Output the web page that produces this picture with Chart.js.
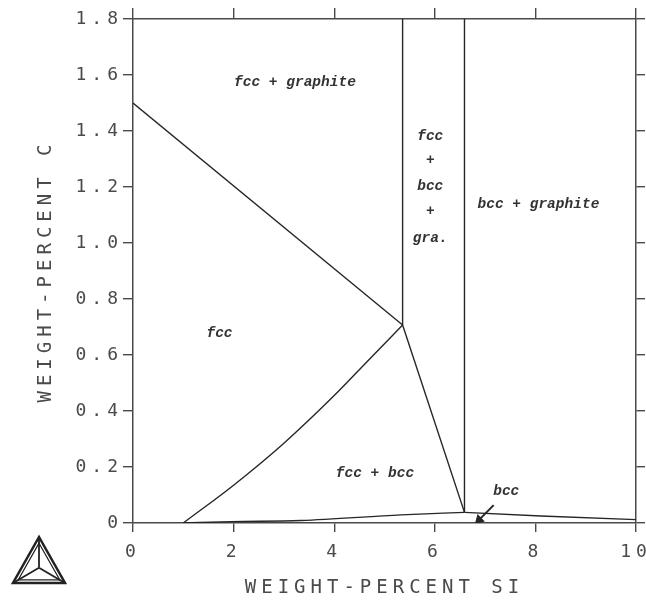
<!DOCTYPE html>
<html>
<head>
<meta charset="utf-8">
<script src="https://cdn.jsdelivr.net/npm/chart.js@4/dist/chart.umd.min.js"></script>
<style>
    html, body { margin: 0; padding: 0; background: #fff; }
    #phaseChart { display: block; }
</style>
</head>
<body>
<canvas id="phaseChart" width="646" height="600"></canvas>
<script>
// Phase boundaries (wt% Si, wt% C)
const graphiteSi = [0, 5.36];
const graphiteC = [1.5, 0.707];
const leftVerticalSi = [5.36, 5.36];
const leftVerticalC = [0.707, 1.8];
const rightVerticalSi = [6.59, 6.59];
const rightVerticalC = [0.038, 1.8];
const fccCurveSi = [1.0, 2.0, 3.0, 4.0, 4.7, 5.36];
const fccCurveC = [0, 0.135, 0.285, 0.455, 0.585, 0.707];
const bccEdgeSi = [5.36, 6.59];
const bccEdgeC = [0.707, 0.038];
const solvusSi = [1.0, 1.95, 3.34, 5.33, 6.59];
const solvusC = [0, 0.005, 0.009, 0.029, 0.038];
const bccGraphiteSi = [6.59, 8.11, 10];
const bccGraphiteC = [0.038, 0.025, 0.012];
const arrowSi = [7.17, 6.88];
const arrowC = [0.064, 0.011];

// Region labels
const labelTexts = ['fcc + graphite', 'fcc', '+', 'bcc', '+', 'gra.', 'bcc + graphite', 'fcc', 'fcc + bcc', 'bcc'];
const labelSi = [3.22, 5.91, 5.91, 5.91, 5.91, 5.91, 8.06, 1.72, 4.81, 7.42];
const labelC = [1.572, 1.382, 1.296, 1.201, 1.112, 1.018, 1.138, 0.677, 0.177, 0.112];

const xTitle = 'WEIGHT-PERCENT SI';
const yTitle = 'WEIGHT-PERCENT C';

const axisColor = '#4a4a4a';
const lineColor = '#262626';
const axisFont = { family: 'DejaVu Sans Mono', size: 18 };
const titleFont = { family: 'DejaVu Sans Mono', size: 19 };

function toPoints(xs, ys) {
    return xs.map((x, i) => ({ x: x, y: ys[i] }));
}

function boundary(xs, ys, extra) {
    return Object.assign({
        data: toPoints(xs, ys),
        showLine: true,
        borderColor: lineColor,
        borderWidth: 1.4,
        pointRadius: 0,
        fill: false
    }, extra || {});
}

// wide-spaced plotter lettering on the axes
const spacingPlugin = {
    id: 'spacing',
    beforeDraw(chart) { chart.ctx.letterSpacing = '5px'; },
    afterDraw(chart) { chart.ctx.letterSpacing = '0px'; }
};

const labelPlugin = {
    id: 'regionLabels',
    afterDatasetsDraw(chart) {
        const ctx = chart.ctx;
        const xs = chart.scales.x, ys = chart.scales.y;
        ctx.save();
        ctx.letterSpacing = '0px';
        ctx.font = 'italic bold 14.5px "Liberation Mono"';
        ctx.fillStyle = '#333';
        ctx.textAlign = 'center';
        ctx.textBaseline = 'middle';
        labelTexts.forEach((t, i) => {
            ctx.fillText(t, xs.getPixelForValue(labelSi[i]), ys.getPixelForValue(labelC[i]));
        });
        ctx.restore();
    }
};

// Thermo-Calc style triangle mark, bottom left
const logoPlugin = {
    id: 'logo',
    afterDraw(chart) {
        const ctx = chart.ctx;
        const a = [39, 537], b = [13, 583], c = [65, 583];
        const g = [(a[0] + b[0] + c[0]) / 3, (a[1] + b[1] + c[1]) / 3];
        const shrink = (p, k) => [g[0] + (p[0] - g[0]) * k, g[1] + (p[1] - g[1]) * k];
        ctx.save();
        ctx.strokeStyle = '#222';
        ctx.lineWidth = 2.5;
        ctx.beginPath();
        ctx.moveTo(a[0], a[1]); ctx.lineTo(b[0], b[1]); ctx.lineTo(c[0], c[1]); ctx.closePath();
        ctx.stroke();
        const ia = shrink(a, 0.8), ib = shrink(b, 0.8), ic = shrink(c, 0.8);
        ctx.lineWidth = 1.2;
        ctx.beginPath();
        ctx.moveTo(ia[0], ia[1]); ctx.lineTo(ib[0], ib[1]); ctx.lineTo(ic[0], ic[1]); ctx.closePath();
        ctx.stroke();
        ctx.lineWidth = 1.8;
        [a, b, c].forEach(p => {
            ctx.beginPath();
            ctx.moveTo(g[0], g[1]);
            ctx.lineTo(p[0], p[1]);
            ctx.stroke();
        });
        ctx.restore();
    }
};

function axisGrid(len) {
    return { drawOnChartArea: false, drawTicks: true, tickLength: len, tickColor: axisColor, lineWidth: 1.4 };
}
const axisBorder = { display: true, color: axisColor, width: 1.5 };

// fixed box sizes so the plot frame lands where the original one is
function fixBox(size) {
    return function (scale) {
        if (scale.isHorizontal()) scale.height = size; else scale.width = size;
        scale.paddingLeft = 0; scale.paddingRight = 0;
        scale.paddingTop = 0; scale.paddingBottom = 0;
    };
}

new Chart(document.getElementById('phaseChart').getContext('2d'), {
    type: 'scatter',
    data: {
        datasets: [
            boundary(graphiteSi, graphiteC),
            boundary(leftVerticalSi, leftVerticalC),
            boundary(rightVerticalSi, rightVerticalC),
            boundary(fccCurveSi, fccCurveC, { cubicInterpolationMode: 'monotone' }),
            boundary(bccEdgeSi, bccEdgeC),
            boundary(solvusSi, solvusC, { cubicInterpolationMode: 'monotone' }),
            boundary(bccGraphiteSi, bccGraphiteC),
            boundary(arrowSi, arrowC, {
                borderWidth: 2,
                pointRadius: [0, 4],
                pointStyle: 'triangle',
                rotation: 225,
                pointBackgroundColor: lineColor,
                pointBorderColor: lineColor
            })
        ]
    },
    options: {
        responsive: false,
        animation: false,
        devicePixelRatio: 1,
        layout: { padding: 0 },
        plugins: { legend: { display: false }, tooltip: { enabled: false } },
        scales: {
            x: {
                type: 'linear', position: 'bottom', min: 0, max: 10,
                ticks: { stepSize: 2, font: axisFont, color: axisColor, padding: 10, maxRotation: 0 },
                grid: axisGrid(9),
                border: axisBorder,
                title: { display: true, text: xTitle, font: titleFont, color: axisColor, padding: { top: 0, bottom: 1 } },
                afterFit: fixBox(77)
            },
            x2: {
                type: 'linear', position: 'top', min: 0, max: 10,
                ticks: { stepSize: 2, color: 'rgba(0,0,0,0)', font: { size: 1 } },
                grid: axisGrid(11),
                border: axisBorder,
                afterFit: fixBox(19)
            },
            y: {
                type: 'linear', position: 'left', min: 0, max: 1.8,
                ticks: {
                    stepSize: 0.2, font: axisFont, color: axisColor, padding: 0,
                    callback: v => (Math.abs(v) < 1e-9 ? '0' : v.toFixed(1))
                },
                grid: axisGrid(10),
                border: axisBorder,
                title: { display: true, text: yTitle, font: titleFont, color: axisColor, padding: { top: 35, bottom: 0 } },
                afterFit: fixBox(133)
            },
            y2: {
                type: 'linear', position: 'right', min: 0, max: 1.8,
                ticks: { stepSize: 0.2, color: 'rgba(0,0,0,0)', font: { size: 1 } },
                grid: axisGrid(9),
                border: axisBorder,
                afterFit: fixBox(10)
            }
        }
    },
    plugins: [spacingPlugin, labelPlugin, logoPlugin]
});
</script>
</body>
</html>
